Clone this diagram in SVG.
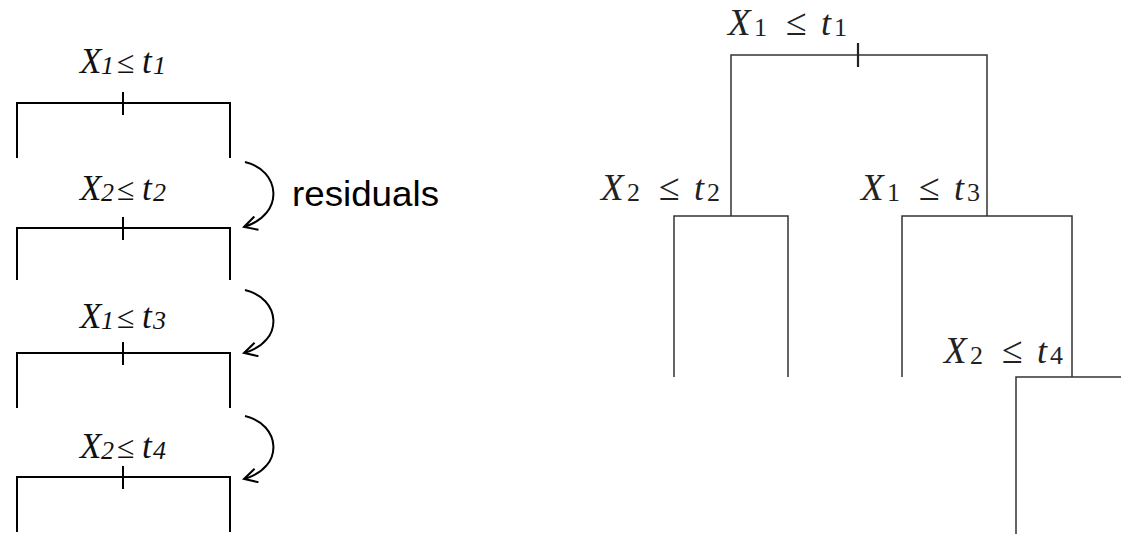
<svg xmlns="http://www.w3.org/2000/svg" width="1121" height="534" viewBox="0 0 1121 534">
<style>
.stump{fill:none;stroke:#000;stroke-width:2}
.tree{fill:none;stroke:#333;stroke-width:1.5}
.arr{fill:none;stroke:#000;stroke-width:2}
.ll{font-family:"Liberation Serif",serif;font-style:italic;font-size:35px;fill:#111}
.ll .s{font-size:26px}
.ll .o{font-size:32px;font-style:normal}
.rl{font-family:"Liberation Serif",serif;font-size:36px;fill:#222}
.rl .v{font-style:italic}
.rl .x{font-size:37px}
.rl .s{font-size:26px;font-style:normal}
.rl .o{font-size:38px}
.res{font-family:"Liberation Sans",Arial,sans-serif;font-size:35px;fill:#000}
</style>
<defs>
<marker id="ah" viewBox="0 0 16 16" refX="14" refY="8" markerWidth="16" markerHeight="16" markerUnits="userSpaceOnUse" orient="auto">
<path d="M1,1 L14,8 L1,15" fill="none" stroke="#000" stroke-width="2"/>
</marker>
</defs>
<rect width="1121" height="534" fill="#fff"/>

<g id="stump1">
<path class="stump" d="M17,158 V103 H230 V158 M123,92 V115"/>
<text class="ll" y="73"><tspan x="80">X</tspan><tspan class="s" x="101" dy="1">1</tspan><tspan class="o" x="117" dy="-1">≤</tspan><tspan x="142">t</tspan><tspan class="s" x="153" dy="1">1</tspan></text>
</g>
<g id="stump2">
<path class="stump" d="M17,280 V228 H230 V280 M123,217 V240"/>
<text class="ll" y="200"><tspan x="80">X</tspan><tspan class="s" x="101" dy="1">2</tspan><tspan class="o" x="117" dy="-1">≤</tspan><tspan x="142">t</tspan><tspan class="s" x="153" dy="1">2</tspan></text>
</g>
<g id="stump3">
<path class="stump" d="M17,408 V353 H230 V408 M123,342 V365"/>
<text class="ll" y="328"><tspan x="80">X</tspan><tspan class="s" x="101" dy="1">1</tspan><tspan class="o" x="117" dy="-1">≤</tspan><tspan x="142">t</tspan><tspan class="s" x="153" dy="1">3</tspan></text>
</g>
<g id="stump4">
<path class="stump" d="M17,532 V477 H230 V532 M123,466 V489"/>
<text class="ll" y="458"><tspan x="80">X</tspan><tspan class="s" x="101" dy="1">2</tspan><tspan class="o" x="117" dy="-1">≤</tspan><tspan x="142">t</tspan><tspan class="s" x="153" dy="1">4</tspan></text>
</g>

<g id="connectors">
<path class="arr" marker-end="url(#ah)" d="M245,162 C280,170 286,214 244,227"/>
<path class="arr" marker-end="url(#ah)" d="M245,290 C280,298 286,341 244,353"/>
<path class="arr" marker-end="url(#ah)" d="M245,416 C280,424 286,467 244,479"/>
</g>
<text class="res" x="292" y="206" textLength="147" lengthAdjust="spacingAndGlyphs">residuals</text>

<g id="split-root">
<path class="tree" d="M731,216 V55 H987 V216"/>
<path d="M858,43 V67" stroke="#222" stroke-width="2.2"/>
<text class="rl" y="35"><tspan class="v x" x="728">X</tspan><tspan class="s" x="754" dy="1">1</tspan><tspan class="o" x="786" dy="-1">≤</tspan><tspan class="v" x="821">t</tspan><tspan class="s" x="834" dy="1">1</tspan></text>
</g>
<g id="split-left">
<path class="tree" d="M674,377 V216 H788 V377"/>
<text class="rl" y="200"><tspan class="v x" x="601">X</tspan><tspan class="s" x="627" dy="1">2</tspan><tspan class="o" x="659" dy="-1">≤</tspan><tspan class="v" x="694">t</tspan><tspan class="s" x="707" dy="1">2</tspan></text>
</g>
<g id="split-right">
<path class="tree" d="M902,377 V216 H1072 V377"/>
<text class="rl" y="200"><tspan class="v x" x="861">X</tspan><tspan class="s" x="887" dy="1">1</tspan><tspan class="o" x="919" dy="-1">≤</tspan><tspan class="v" x="954">t</tspan><tspan class="s" x="967" dy="1">3</tspan></text>
</g>
<g id="split-deep">
<path class="tree" d="M1016,534 V377 H1121"/>
<text class="rl" y="363"><tspan class="v x" x="944">X</tspan><tspan class="s" x="970" dy="1">2</tspan><tspan class="o" x="1002" dy="-1">≤</tspan><tspan class="v" x="1037">t</tspan><tspan class="s" x="1050" dy="1">4</tspan></text>
</g>
</svg>
